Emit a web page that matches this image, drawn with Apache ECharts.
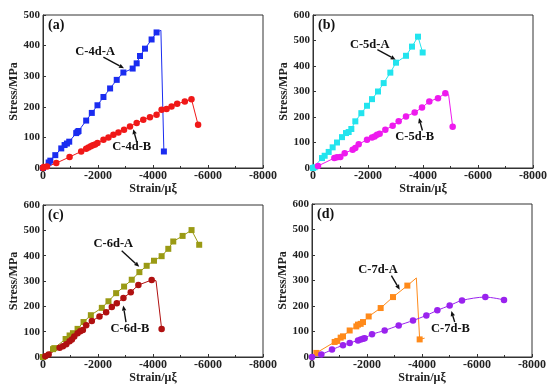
<!DOCTYPE html>
<html><head><meta charset="utf-8">
<script src="https://cdn.jsdelivr.net/npm/echarts@6/dist/echarts.min.js"></script>
<style>html,body{margin:0;padding:0;background:#fff}#c{width:550px;height:388px}</style>
</head><body><div id="c"></div>
<script>
// ---- data (strain in με, stress in MPa) ----
const a_A = [[0,0],[-205,18],[-266,24],[-447,42],[-664,64],[-785,75],[-870,80],[-954,86],[-1208,114],[-1256,118],[-1292,121],[-1570,155],[-1775,180],[-1981,205],[-2198,232],[-2440,260],[-2681,288],[-2923,312],[-3261,325],[-3406,342],[-3527,366],[-3708,390],[-3949,420],[-4130,443],[-4287,450],[-4396,54]];
const a_A_marks = [1,1,1,1,1,1,1,1,1,1,1,1,1,1,1,1,1,1,1,1,1,1,1,1,0,1];
const a_B = [[0,0],[-24,3],[-145,5],[-483,16],[-966,36],[-1389,54],[-1570,63],[-1655,67],[-1739,71],[-1812,74],[-1896,77],[-1981,82],[-2198,92],[-2379,100],[-2560,109],[-2742,116],[-2947,125],[-3164,136],[-3406,147],[-3647,158],[-3889,166],[-4130,174],[-4312,190],[-4493,193],[-4674,201],[-4879,210],[-5157,217],[-5399,225],[-5640,141]];
const b_A = [[0,0],[-60,3],[-327,39],[-424,48],[-570,63],[-715,81],[-873,100],[-1055,121],[-1200,137],[-1297,141],[-1394,153],[-1539,183],[-1758,215],[-1964,244],[-2145,270],[-2364,300],[-2570,333],[-2812,374],[-3018,413],[-3382,440],[-3600,476],[-3818,515],[-3988,453]];
const b_B = [[0,0],[-182,8],[-776,39],[-873,42],[-994,43],[-1152,58],[-1442,72],[-1539,78],[-1661,93],[-1964,111],[-2145,120],[-2242,124],[-2327,130],[-2424,134],[-2630,150],[-2897,166],[-3115,183],[-3382,202],[-3697,218],[-3964,237],[-4230,261],[-4545,274],[-4812,293],[-4930,288],[-5079,162]];
const b_B_marks = [0,1,1,1,1,1,1,1,1,1,1,1,1,1,1,1,1,1,1,1,1,1,1,0,1];
const c_A = [[0,0],[-363,31],[-411,35],[-822,71],[-967,85],[-1088,94],[-1257,111],[-1474,138],[-1740,165],[-2139,194],[-2381,220],[-2659,252],[-2949,278],[-3227,305],[-3505,335],[-3770,360],[-4036,380],[-4314,398],[-4556,427],[-4737,456],[-5076,478],[-5402,501],[-5680,443]];
const c_B = [[0,0],[-85,3],[-205,10],[-604,37],[-725,42],[-846,50],[-967,62],[-1051,69],[-1136,81],[-1257,94],[-1354,102],[-1450,107],[-1571,125],[-1776,142],[-2054,160],[-2296,177],[-2502,197],[-2683,212],[-2925,233],[-3191,256],[-3468,284],[-3952,304],[-4110,301],[-4314,111]];
const c_B_marks = [0,1,1,1,1,1,1,1,1,1,1,1,1,1,1,1,1,1,1,1,1,1,0,1];
const d_A = [[0,0],[-158,16],[-824,59],[-921,63],[-1042,76],[-1127,81],[-1370,104],[-1612,120],[-1673,127],[-1770,130],[-1855,137],[-2061,159],[-2497,192],[-2945,235],[-3467,280],[-3794,310],[-3915,69],[-4097,74]];
const d_A_marks = [0,1,1,1,1,1,1,1,1,1,1,1,1,1,1,0,1,0];
const d_B = [[0,0],[-339,10],[-727,29],[-1127,46],[-1370,55],[-1673,65],[-1770,69],[-1855,72],[-1915,74],[-2182,89],[-2642,104],[-3152,124],[-3673,143],[-4158,163],[-4558,183],[-5006,202],[-5455,222],[-6303,235],[-6982,224]];
const yMaxes = [500, 600, 600, 600];
const panelLabels = ['(a)', '(b)', '(c)', '(d)'];
const seriesNames = [['C-4d-A','C-4d-B'],['C-5d-A','C-5d-B'],['C-6d-A','C-6d-B'],['C-7d-A','C-7d-B']];
// annotation: [textX, textY, arrowStartX, arrowStartY, arrowEndX, arrowEndY]
const notes = [
  [[-1895,379,-2196,362,-2946,326],[-3225,70,-3406,87,-3283,127]],
  [[-2062,483,-2341,464,-3007,425],[-3698,124,-3978,147,-3855,196]],
  [[-2558,448,-2862,419,-3500,356],[-3163,111,-3018,138,-2920,203]],
  [[-2400,342,-2887,319,-3189,264],[-5036,111,-5189,137,-5069,180]]
];

const FONT = 'Liberation Serif';
const grids = [
  {left:43, top:15, width:220, height:153},
  {left:313, top:15, width:220, height:153},
  {left:43, top:205, width:220, height:152},
  {left:312, top:204, width:220, height:153}
];
const chart = echarts.init(document.getElementById('c'));
const xAxes = [], yAxes = [];
for (let i = 0; i < 4; i++) {
  xAxes.push({
    type:'value', gridIndex:i, min:-8000, max:0, interval:2000, inverse:true,
    name:'Strain/μξ', nameLocation:'middle', nameGap:13,
    nameTextStyle:{fontFamily:FONT, fontWeight:'bold', fontSize:12, color:'#222'},
    axisLine:{lineStyle:{color:'#333', width:1}},
    axisTick:{inside:true, length:3, lineStyle:{color:'#333'}},
    minorTick:{show:true, splitNumber:2, length:2, lineStyle:{color:'#333'}},
    axisLabel:{fontFamily:FONT, fontWeight:'bold', fontSize:12, color:'#222', margin:2,
      formatter:v => String(v)},
    splitLine:{show:false}
  });
  yAxes.push({
    type:'value', gridIndex:i, min:0, max:yMaxes[i], interval:100,
    name:'Stress/MPa', nameLocation:'middle', nameGap:22,
    nameTextStyle:{fontFamily:FONT, fontWeight:'bold', fontSize:12, color:'#222'},
    axisLine:{show:true, lineStyle:{color:'#333', width:1}},
    axisTick:{show:true, inside:true, length:3, lineStyle:{color:'#333'}},
    axisLabel:{fontFamily:FONT, fontWeight:'bold', fontSize:11, color:'#222', margin:3},
    splitLine:{show:false}
  });
}
function mk(data, marks, symbol, color, gi, name, smooth) {
  return {
    type:'line', name, xAxisIndex:gi, yAxisIndex:gi, symbol, symbolSize: symbol==='rect'?6:6.5,
    smooth: smooth || false,
    data: data.map((p, k) => (marks && !marks[k]) ? {value:p, symbol:'none'} : {value:p}),
    lineStyle:{color, width:1}, itemStyle:{color}, showSymbol:true, animation:false, z:3
  };
}
const series = [
  mk(a_A, a_A_marks, 'rect', '#1a2cf0', 0, seriesNames[0][0]),
  mk(a_B, null, 'circle', '#f01818', 0, seriesNames[0][1]),
  mk(b_A, null, 'rect', '#22e4ee', 1, seriesNames[1][0]),
  mk(b_B, b_B_marks, 'circle', '#ee1aee', 1, seriesNames[1][1]),
  mk(c_A, null, 'rect', '#9a9a14', 2, seriesNames[2][0]),
  mk(c_B, c_B_marks, 'circle', '#b01010', 2, seriesNames[2][1]),
  mk(d_A, d_A_marks, 'rect', '#ff8a1a', 3, seriesNames[3][0]),
  mk(d_B, null, 'circle', '#9a22ee', 3, seriesNames[3][1], 0.3)
];
chart.setOption({
  animation:false,
  grid: grids.map(g => Object.assign({show:true, borderColor:'#333', borderWidth:1, backgroundColor:'transparent'}, g)),
  xAxis:xAxes, yAxis:yAxes, series
});
// annotations positioned through axis scales
const gfx = [];
for (let i = 0; i < 4; i++) {
  const g = grids[i];
  gfx.push({type:'text', left:g.left+5, top:g.top+3, style:{text:panelLabels[i], font:'bold 14px "'+FONT+'"', fill:'#111'}});
  notes[i].forEach((n, k) => {
    const t = chart.convertToPixel({gridIndex:i}, [n[0], n[1]]);
    const s = chart.convertToPixel({gridIndex:i}, [n[2], n[3]]);
    const e = chart.convertToPixel({gridIndex:i}, [n[4], n[5]]);
    gfx.push({type:'text', x:t[0], y:t[1], style:{text:seriesNames[i][k], font:'bold 12.5px "'+FONT+'"', fill:'#111', align:'center', verticalAlign:'middle'}});
    const dx = e[0]-s[0], dy = e[1]-s[1], L = Math.hypot(dx, dy), ux = dx/L, uy = dy/L;
    const hl = 5, hw = 2.2;
    const bx = e[0]-ux*hl, by = e[1]-uy*hl;
    gfx.push({type:'line', shape:{x1:s[0], y1:s[1], x2:bx, y2:by}, style:{stroke:'#111', lineWidth:1.4}});
    gfx.push({type:'polygon', shape:{points:[[e[0],e[1]],[bx-uy*hw, by+ux*hw],[bx+uy*hw, by-ux*hw]]}, style:{fill:'#111'}});
  });
}
chart.setOption({graphic:gfx});
</script></body></html>
